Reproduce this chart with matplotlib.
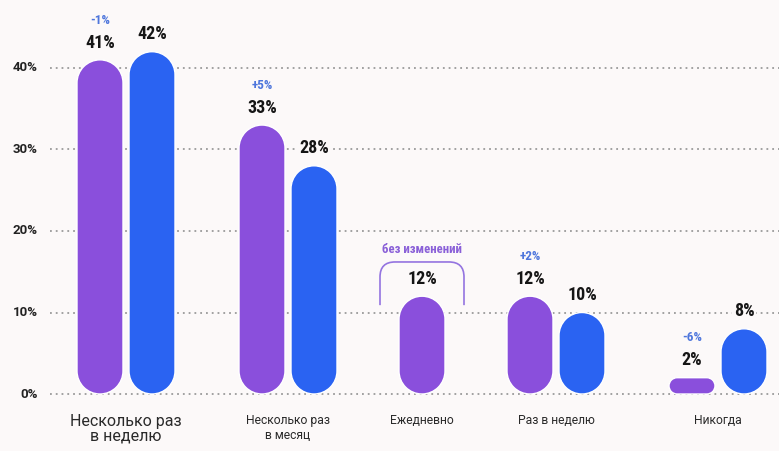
import numpy as np
import matplotlib.pyplot as plt
from matplotlib.path import Path
from matplotlib.patches import PathPatch
from matplotlib import font_manager

categories = ['Несколько раз\nв неделю', 'Несколько раз\nв месяц', 'Ежедневно', 'Раз в неделю', 'Никогда']
purple_vals = [41, 33, 12, 12, 2]
blue_vals = [42, 28, None, 10, 8]
changes = ['-1%', '+5%', 'без изменений', '+2%', '-6%']
yticks = [0, 10, 20, 30, 40]

# layout (pixels)
W, H = 779, 451
group_x = [126, 288, 422, 556, 718]
bar_w = 46
off = 26
ppu = 8.15      # px per percent
zero_px = 57    # zero line from bottom

bg = '#fcf9f9'
purple = '#8a4fdc'
blue = '#2a63f2'
txt_font = ['Roboto', 'DejaVu Sans']

# condensed font for the numbers, whatever is there
fonts = font_manager.fontManager.ttflist
names = {f.name for f in fonts}
num_kw = dict(family=['Roboto', 'DejaVu Sans'])
if 'Liberation Sans Narrow' in names:
    num_kw = dict(family=['Liberation Sans Narrow', 'DejaVu Sans'])
elif 'Roboto Condensed' in names:
    num_kw = dict(family=['Roboto Condensed', 'DejaVu Sans'])
else:
    cond = [f.name for f in fonts if f.stretch in ('condensed', 'semi-condensed', 'extra-condensed')]
    if cond:
        num_kw = dict(family=[cond[0], 'DejaVu Sans'], stretch='condensed')

fig = plt.figure(figsize=(W / 100, H / 100), dpi=100)
fig.patch.set_facecolor(bg)
ax = fig.add_axes([0, 0, 1, 1])
ax.set_facecolor(bg)
ax.set_xlim(0, W)
ax.set_ylim(-zero_px / ppu, (H - zero_px) / ppu)
ax.axis('off')


def pill(xc, top, color):
    hpx = top * ppu
    r = min(bar_w / 2, hpx / 2)
    ry = r / ppu
    x0, x1 = xc - bar_w / 2 + r, xc + bar_w / 2 - r
    centers = [((x1, ry), -90, 0), ((x1, top - ry), 0, 90),
               ((x0, top - ry), 90, 180), ((x0, ry), 180, 270)]
    verts, codes = [], []
    for i, (c, a1, a2) in enumerate(centers):
        arc = Path.arc(a1, a2)
        v = arc.vertices * [r, ry] + c
        cd = list(arc.codes)
        if i > 0:
            cd[0] = Path.LINETO
        verts.extend(v.tolist())
        codes.extend(cd)
    verts.append(verts[0])
    codes.append(Path.CLOSEPOLY)
    ax.add_patch(PathPatch(Path(verts, codes), facecolor=color,
                           edgecolor='white', lw=1.0, zorder=3))


# grid + y labels
for t in yticks:
    ax.plot([50, W], [t, t], color='#9a9a9a', lw=1.3, ls=(0, (1, 2.2)), zorder=1)
    ax.text(38, t, f'{t}%', ha='right', va='center', fontsize=9.5,
            fontweight='bold', color='#222222', family=txt_font)


def value_label(x, v):
    ax.annotate(f'{v}%', (x, v), xytext=(0, 6), textcoords='offset points',
                ha='center', va='bottom', fontsize=13, fontweight='bold',
                color='#151515', zorder=5, **num_kw,
                bbox=dict(boxstyle='square,pad=0.1', fc=bg, ec='none'))


for i, cat in enumerate(categories):
    gx = group_x[i]
    pv, bv = purple_vals[i], blue_vals[i]
    if bv is None:
        px = gx
    else:
        px = gx - off
        pill(gx + off, bv, blue)
        value_label(gx + off, bv)
    pill(px, pv, purple)
    value_label(px, pv)

    if bv is None:
        # bracket above the single bar
        hw, rr = 42, 15
        yb, yt = 10.9, 16.2
        ryy = rr / ppu
        verts = [(px - hw, yb), (px - hw, yt - ryy), (px - hw, yt), (px - hw + rr, yt),
                 (px + hw - rr, yt), (px + hw, yt), (px + hw, yt - ryy), (px + hw, yb)]
        codes = [Path.MOVETO, Path.LINETO, Path.CURVE3, Path.CURVE3,
                 Path.LINETO, Path.CURVE3, Path.CURVE3, Path.LINETO]
        ax.add_patch(PathPatch(Path(verts, codes), fill=False, ec='#9474e0',
                               lw=1.2, zorder=2))
        ax.text(px, yt + 1.5, changes[i], ha='center', va='center', fontsize=9.3,
                fontweight='bold', color='#8a60d8', **num_kw)
    else:
        ax.annotate(changes[i], (px, pv), xytext=(0, 24), textcoords='offset points',
                    ha='center', va='bottom', fontsize=9.5, fontweight='bold',
                    color='#4e76dc', **num_kw)

    big = i == 0
    ax.text(gx, -2.45, cat, ha='center', va='top',
            fontsize=11.5 if big else 8.7, linespacing=1.0 if big else 1.25,
            color='#2a2a2a', family=txt_font)

fig.savefig('out.png', dpi=100, facecolor=bg)
